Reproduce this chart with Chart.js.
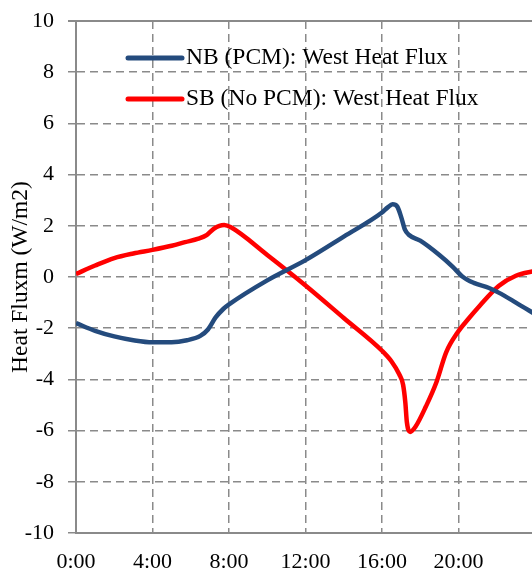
<!DOCTYPE html>
<html>
<head>
<meta charset="utf-8">
<script src="https://cdn.jsdelivr.net/npm/chart.js@4/dist/chart.umd.min.js"></script>
<style>
    html, body { margin: 0; padding: 0; background: #fff; overflow: hidden; }
    #wrap { width: 580px; height: 572px; }
</style>
</head>
<body>
<div id="wrap"><canvas id="grafico" width="580" height="572"></canvas></div>
<script>
// hora del día (h) y flujo de calor en la pared oeste (W/m2)
const nbHoras = [0, 1, 2, 3, 4, 5, 5.8, 6.5, 6.9, 7.3, 7.7, 8, 10, 12, 14, 16, 16.3, 16.55, 16.8, 17.0, 17.2, 17.4, 18, 19, 19.7, 20.2, 20.8, 21.6, 22.1, 23, 24];
const nbFlujo = [-1.8, -2.1, -2.32, -2.47, -2.55, -2.55, -2.47, -2.3, -2.05, -1.58, -1.25, -1.07, -0.13, 0.66, 1.58, 2.52, 2.72, 2.84, 2.75, 2.35, 1.85, 1.65, 1.42, 0.86, 0.4, 0.02, -0.23, -0.43, -0.61, -1.0, -1.45];

const sbHoras = [0, 1, 2, 3, 4, 5, 5.7, 6.4, 6.85, 7.2, 7.5, 7.75, 8.1, 10, 12, 14, 16, 16.5, 16.9, 17.1, 17.22, 17.3, 17.47, 17.75, 18.3, 18.85, 19.35, 19.95, 20.5, 21.1, 22.1, 23, 24];
const sbFlujo = [0.12, 0.45, 0.74, 0.92, 1.06, 1.22, 1.36, 1.5, 1.65, 1.88, 2.0, 2.03, 1.94, 0.86, -0.33, -1.6, -2.88, -3.3, -3.8, -4.2, -4.9, -5.67, -6.05, -5.85, -5.05, -4.1, -2.95, -2.17, -1.65, -1.13, -0.35, 0.05, 0.24];

const series = ['NB (PCM): West Heat Flux', 'SB (No PCM): West Heat Flux'];
const horasEje = [0, 4, 8, 12, 16, 20];
const etiquetasHoras = ['0:00', '4:00', '8:00', '12:00', '16:00', '20:00'];

const fuente = 'Liberation Serif';
const gris = '#8a8a8a';

function puntos(xs, ys) {
    return xs.map((x, i) => ({ x: x, y: ys[i] }));
}

// leyenda dentro del área del gráfico y borde superior sólido
const leyendaInterna = {
    id: 'leyendaInterna',
    afterDraw(chart) {
        const { ctx, chartArea } = chart;
        ctx.save();
        ctx.strokeStyle = gris;
        ctx.lineWidth = 2;
        ctx.beginPath();
        ctx.moveTo(chartArea.left - 8, chartArea.top);
        ctx.lineTo(chartArea.right, chartArea.top);
        ctx.stroke();

        ctx.font = '23.5px "' + fuente + '"';
        ctx.textBaseline = 'middle';
        ctx.fillStyle = '#000';
        ctx.lineCap = 'round';
        chart.data.datasets.forEach((ds, i) => {
            const y = chartArea.top + 37 + i * 41;
            const x0 = chartArea.left + 52;
            ctx.strokeStyle = ds.borderColor;
            ctx.lineWidth = 5;
            ctx.beginPath();
            ctx.moveTo(x0, y);
            ctx.lineTo(x0 + 54, y);
            ctx.stroke();
            ctx.fillText(ds.label, x0 + 58, y);
        });
        ctx.restore();
    }
};

const ctx = document.getElementById('grafico').getContext('2d');
new Chart(ctx, {
    type: 'line',
    data: {
        datasets: [{
            label: series[0],
            data: puntos(nbHoras, nbFlujo),
            borderColor: 'rgb(36, 75, 125)',
            borderWidth: 4.5,
            pointRadius: 0,
            cubicInterpolationMode: 'monotone'
        }, {
            label: series[1],
            data: puntos(sbHoras, sbFlujo),
            borderColor: 'rgb(255, 0, 0)',
            borderWidth: 4.5,
            pointRadius: 0,
            cubicInterpolationMode: 'monotone'
        }]
    },
    options: {
        responsive: false,
        animation: false,
        layout: { padding: { top: 21, right: 45, left: 0, bottom: 0 } },
        plugins: {
            legend: { display: false },
            tooltip: { enabled: false }
        },
        scales: {
            x: {
                type: 'linear',
                min: 0,
                max: 24,
                afterBuildTicks: (scale) => {
                    scale.ticks = horasEje.map(v => ({ value: v }));
                },
                afterFit: (scale) => { scale.height = 39; },
                ticks: {
                    color: '#000',
                    font: { family: fuente, size: 22 },
                    padding: 16,
                    maxRotation: 0,
                    callback: (v) => etiquetasHoras[horasEje.indexOf(v)]
                },
                grid: {
                    color: gris,
                    lineWidth: 1.5,
                    drawTicks: false
                },
                border: { display: true, color: gris, width: 2, dash: [8, 5] }
            },
            y: {
                min: -10,
                max: 10,
                afterFit: (scale) => {
                    scale.width = 76;
                    scale.paddingTop = 0;
                    scale.paddingBottom = 0;
                },
                ticks: {
                    stepSize: 2,
                    color: '#000',
                    font: { family: fuente, size: 22 },
                    padding: 14
                },
                grid: {
                    color: gris,
                    lineWidth: 1.5,
                    drawTicks: true,
                    tickLength: 8,
                    tickColor: gris,
                    tickWidth: 1.5,
                    tickBorderDash: []
                },
                border: { display: true, color: gris, width: 2, dash: [8, 5] },
                title: {
                    display: true,
                    text: 'Heat Fluxm (W/m2)',
                    color: '#000',
                    font: { family: fuente, size: 23.5 },
                    padding: { top: 7, bottom: 0 }
                }
            }
        }
    },
    plugins: [leyendaInterna]
});
</script>
</body>
</html>
